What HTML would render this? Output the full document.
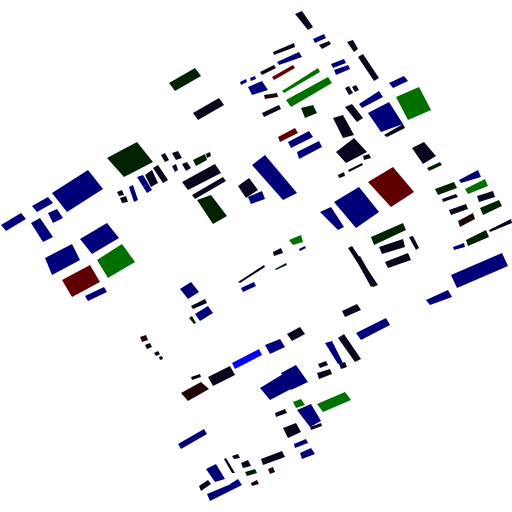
<!DOCTYPE html>
<html><head><meta charset="utf-8"><style>html,body{margin:0;padding:0;background:#fff;width:512px;height:512px;overflow:hidden}</style></head>
<body>
<svg id="map" width="512" height="512" viewBox="0 0 512 512" xmlns="http://www.w3.org/2000/svg"></svg>
<script>
const colors={N:'#000078',K:'#06061c',G:'#007000',D:'#002200',R:'#600000',B:'#0000ff',W:'#200404'};
const buildingShapes=[
['K',295,14,302,11,313,27,308,30],['N',313,39,324,34,326,38,315,43],['K',319,45,329,41,331,44,322,49],['N',277,62,299,52,302,57,279,65],
['K',273,52,294,43,295,47,274,55],['K',347,42,353,40,358,49,354,52],['N',331,64,344,59,346,63,333,68],['N',334,70,348,65,350,69,336,75],
['K',358,57,363,54,379,78,374,81],['R',272,77,293,65,295,68,274,80],['G',282,91,318,68,320,72,284,93],['G',286,100,328,77,332,83,291,107],
['N',248,87,262,81,268,90,252,95],['W',264,95,277,93,278,97,265,99],['K',260,72,274,65,276,68,262,75],['D',301,108,313,105,317,113,305,118],
['R',278,137,295,128,298,133,280,142],['K',262,113,279,105,281,109,264,117],['N',288,142,309,131,313,137,291,148],['N',297,152,319,141,322,147,299,159],
['K',345,88,349,86,353,93,349,95],['K',352,87,356,85,359,90,355,92],['N',359,104,379,91,383,97,362,108],['N',389,83,404,76,408,81,393,88],
['G',396,97,419,87,431,110,408,120],['N',368,113,389,102,403,124,381,132],['K',384,135,403,124,405,128,387,137],['K',345,107,352,104,363,118,357,122],
['K',333,118,343,115,354,135,343,138],['K',336,152,354,138,367,152,346,163],['K',363,156,369,154,371,158,364,160],['K',348,170,362,163,363,165,349,172],
['K',338,175,344,172,345,176,339,178],['K',412,148,424,142,436,156,423,164],['D',427,168,440,162,442,165,429,171],['R',368,182,393,167,414,192,391,207],
['N',334,202,359,187,379,212,356,228],['N',320,212,331,207,344,227,338,230],['N',252,165,265,155,297,193,283,200],['N',249,197,262,193,264,198,251,203],
['G',289,240,301,235,303,242,293,245],['N',299,249,305,246,306,248,300,251],['N',459,180,478,170,481,177,461,183],['K',238,186,249,178,258,190,246,198],
['D',435,189,454,182,457,188,438,195],['G',465,189,485,179,488,186,468,194],['K',442,199,456,194,458,197,443,202],['K',477,196,493,191,495,197,479,202],
['K',449,210,466,204,468,209,451,215],['D',480,208,499,200,502,206,483,215],['W',458,221,473,213,475,219,460,227],['K',489,230,511,219,512,223,490,232],
['D',371,237,403,223,406,230,374,245],['K',379,247,403,239,405,247,382,254],['K',409,237,413,236,419,248,416,250],['D',466,240,486,230,489,237,468,246],
['N',453,247,464,243,465,247,454,250],['K',273,252,281,248,283,253,274,256],['N',451,275,502,253,508,266,457,288],['N',426,300,448,290,452,297,430,305],
['K',385,262,408,253,411,260,388,268],['K',348,248,352,246,378,285,373,287],['K',388,247,400,242,402,246,390,251],['K',342,311,357,304,361,310,345,317],
['D',169,83,195,68,201,76,175,91],['K',193,113,219,98,224,105,198,120],['N',240,82,246,79,247,82,241,85],['N',250,78,255,76,256,79,251,81],
['D',107,158,137,142,153,162,124,177],['N',52,193,88,170,103,189,67,212],['N',32,206,48,197,53,203,37,212],['N',48,213,57,209,63,218,53,223],
['N',1,225,21,213,26,219,6,231],['N',31,223,40,218,53,237,43,242],['N',80,239,107,223,119,238,92,254],['N',45,258,72,244,80,260,52,275],
['G',97,260,122,244,135,262,108,278],['R',62,280,90,265,100,282,72,297],['N',85,296,104,287,107,292,88,301],['N',137,177,143,175,152,190,147,193],
['K',145,175,152,170,158,183,151,187],['K',153,168,158,165,168,180,163,183],['K',161,155,165,153,169,160,165,162],['K',172,153,178,151,182,158,176,160],
['K',172,166,176,164,178,170,175,172],['K',182,164,187,162,191,168,186,171],['K',117,192,122,190,124,195,119,196],['K',120,198,126,196,128,202,122,203],
['N',129,187,133,185,138,200,134,202],['D',193,160,205,154,207,160,196,166],['K',206,154,210,152,211,156,207,158],['K',182,182,215,164,221,173,188,190],
['K',192,195,223,177,226,181,195,199],['D',197,200,211,195,227,216,213,224],['N',248,197,262,191,265,199,251,204],['K',238,282,264,265,265,267,240,283],
['D',275,269,286,263,287,265,276,270],['N',241,288,254,282,256,286,243,292],['K',355,258,360,256,376,284,371,287],['N',180,289,191,282,199,292,188,299],
['K',191,306,205,299,207,303,193,309],['N',195,314,208,306,213,313,200,321],['D',189,318,192,316,196,323,194,324],['N',356,333,386,318,390,325,361,340],
['K',287,334,300,327,305,334,292,341],['N',265,345,280,339,285,347,270,354],['B',232,363,259,349,262,355,235,369],['K',208,377,230,366,235,375,213,386],
['W',181,393,201,382,209,389,188,401],['N',325,343,332,341,343,363,338,364],['K',338,338,344,334,361,359,355,362],['K',339,364,345,362,347,367,341,369],
['K',317,373,330,369,332,374,319,379],['N',260,388,283,374,291,389,270,400],['N',281,373,296,365,308,382,291,390],['G',317,404,345,392,351,400,323,412],
['G',293,402,301,399,305,405,296,408],['N',297,410,311,404,321,421,310,427],['K',310,427,321,423,322,426,311,430],['K',275,413,285,409,287,413,276,417],
['K',283,428,296,423,301,432,288,438],['N',294,444,306,439,308,443,295,448],['N',300,453,311,448,315,454,302,459],['N',178,444,204,429,207,434,181,449],
['K',261,459,282,451,285,457,263,465],['N',206,469,216,464,225,479,215,482],['N',207,494,231,484,234,489,210,501],['N',230,484,238,479,242,485,234,489],
['K',199,486,208,480,211,484,201,491],['K',224,459,226,458,235,473,232,473],['K',232,456,238,454,240,458,234,459],['K',241,463,248,460,251,466,243,468],
['D',245,472,255,469,257,473,247,476],['W',251,483,257,480,259,484,252,486],['W',268,469,273,467,275,472,270,474],['W',140,337,146,335,148,340,142,342],
['K',145,345,150,343,152,347,147,349],['K',154,353,158,351,160,354,156,356],['K',159,357,162,356,163,359,160,360],['K',318,364,326,361,328,365,320,368],
['K',191,377,200,374,201,377,192,380]];
const svg=document.getElementById('map');
buildingShapes.forEach((b)=>{
  const p=document.createElementNS('http://www.w3.org/2000/svg','polygon');
  const s=[];for(let j=1;j<b.length;j+=2)s.push(b[j]+','+b[j+1]);
  p.setAttribute('points',s.join(' '));
  p.setAttribute('fill',colors[b[0]]);
  
  
  svg.appendChild(p);
});
</script>
</body></html>
